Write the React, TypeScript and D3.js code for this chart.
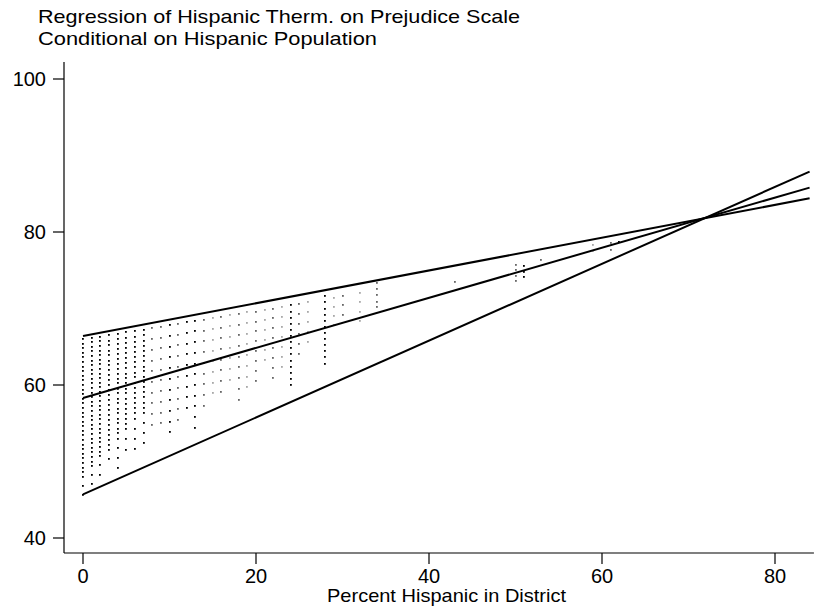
import React, { useEffect, useRef } from 'react';
import * as d3 from 'd3';

const width = 821;
const height = 608;

const titleLines = [
  'Regression of Hispanic Therm. on Prejudice Scale',
  'Conditional on Hispanic Population',
];
const titleWidths = [482, 339];
const xLabel = 'Percent Hispanic in District';
const xTicks = [0, 20, 40, 60, 80];
const yTicks = [40, 60, 80, 100];

// fitted lines: value at 0% and at 84% hispanic
const fitLines = [
  { x0: 0, y0: 66.4, x1: 84, y1: 84.4 },
  { x0: 0, y0: 58.3, x1: 84, y1: 85.8 },
  { x0: 0, y0: 45.7, x1: 84, y1: 87.9 },
];

// tone: 0 black, 1 gray, 2 light gray
const dotColumns = [
  { x: 0, tone: 0, ys: '66.0 65.4 64.8 64.2 63.6 63.0 62.4 61.8 61.2 60.6 60.0 59.4 58.8 58.2 57.6 57.0 56.4 55.8 55.2 54.6 54.0 53.4 52.8 52.2 51.6 51.0 50.4 49.8 49.2 48.6 48.0 46.8 45.6' },
  { x: 1, tone: 0, ys: '66.2 65.6 65.0 64.4 63.8 63.2 62.6 62.0 61.4 60.8 60.2 59.6 59.0 58.4 57.8 57.2 56.6 56.0 55.4 54.8 54.2 53.6 53.0 52.4 51.8 51.2 50.6 50.0 49.4 48.2 47.0' },
  { x: 2, tone: 0, ys: '66.3 65.7 65.1 64.5 63.9 63.3 62.7 62.1 61.5 60.9 60.3 59.7 59.1 58.5 57.9 57.3 56.7 56.1 55.5 54.9 54.3 53.7 53.1 52.5 51.9 51.3 50.7 49.5 48.3' },
  { x: 3, tone: 0, ys: '66.5 65.8 65.2 64.5 63.9 63.2 62.6 61.9 61.3 60.6 60.0 59.3 58.7 58.0 57.4 56.7 56.1 55.4 54.8 54.1 53.5 52.8 52.2 51.5 50.3' },
  { x: 4, tone: 0, ys: '66.7 66.0 65.4 64.7 64.1 63.4 62.8 62.1 61.5 60.8 60.2 59.5 58.9 58.2 57.6 56.9 56.3 55.6 55.0 54.3 53.7 53.0 51.7 50.4 49.1' },
  { x: 5, tone: 0, ys: '66.9 66.2 65.5 64.9 64.2 63.5 62.9 62.2 61.5 60.9 60.2 59.5 58.9 58.2 57.5 56.9 56.2 55.5 54.9 54.2 52.9 51.5' },
  { x: 6, tone: 0, ys: '67.0 66.3 65.6 65.0 64.3 63.6 63.0 62.3 61.6 61.0 60.3 59.6 59.0 58.3 57.6 57.0 56.3 55.6 54.3 53.0 51.6' },
  { x: 7, tone: 0, ys: '67.2 66.5 65.8 65.1 64.5 63.8 63.1 62.4 61.8 61.1 60.4 59.7 59.1 58.4 57.7 57.0 56.4 55.0 53.7 52.4' },
  { x: 8, tone: 1, ys: '67.4 66.0 64.6 63.2 61.8 60.4 59.0 57.6 56.2 54.8' },
  { x: 9, tone: 1, ys: '67.6 66.2 64.8 63.4 62.0 60.6 59.2 57.8 56.4 55.0' },
  { x: 10, tone: 0, ys: '67.8 66.4 65.0 63.6 62.2 60.8 59.4 58.0 56.6 55.2 53.8' },
  { x: 11, tone: 1, ys: '68.0 66.6 65.2 63.8 62.4 61.0 59.6 58.2 56.8 55.4' },
  { x: 12, tone: 0, ys: '68.2 66.8 65.4 64.0 62.6 61.2 59.8 58.4 57.0' },
  { x: 13, tone: 0, ys: '68.4 67.0 65.6 64.2 62.8 61.4 60.0 58.6 57.2 55.8 54.4' },
  { x: 14, tone: 1, ys: '68.5 67.1 65.7 64.3 62.9 61.5 60.1 58.7 57.3' },
  { x: 15, tone: 2, ys: '68.7 67.3 65.9 64.5 63.1 61.7 60.3 58.9' },
  { x: 16, tone: 1, ys: '68.9 67.5 66.1 64.7 63.3 61.9 60.5 59.1' },
  { x: 17, tone: 2, ys: '69.1 67.7 66.3 64.9 63.5 62.1 60.7' },
  { x: 18, tone: 1, ys: '69.3 67.9 66.5 65.1 63.7 62.3 60.9 59.5 58.1' },
  { x: 19, tone: 2, ys: '69.5 68.1 66.7 65.3 63.9 62.5 61.1 59.7' },
  { x: 20, tone: 1, ys: '69.6 68.3 67.0 65.7 64.4 63.1 61.8 60.5' },
  { x: 21, tone: 2, ys: '69.8 68.5 67.2 65.9 64.6 63.3' },
  { x: 22, tone: 1, ys: '70.0 68.7 67.4 66.1 64.8 63.5 62.2 60.9' },
  { x: 23, tone: 2, ys: '70.2 68.9 67.6 66.3 65.0 63.7 62.4' },
  { x: 24, tone: 0, ys: '70.4 69.6 68.8 68.0 67.2 66.4 65.6 64.8 64.0 63.2 62.4 61.6 60.8 60.0' },
  { x: 25, tone: 1, ys: '70.6 69.3 68.0 66.7 65.4 64.1' },
  { x: 26, tone: 2, ys: '70.8 69.5 68.2 66.9 65.6' },
  { x: 28, tone: 0, ys: '71.6 70.8 70.0 69.2 68.4 67.6 66.8 66.0 65.2 64.4 63.6 62.8' },
  { x: 29, tone: 2, ys: '71.4 70.2 69.0 67.8' },
  { x: 30, tone: 1, ys: '71.6 70.4 69.2' },
  { x: 32, tone: 2, ys: '72.0 70.8 69.6 68.4' },
  { x: 34, tone: 1, ys: '73.3 72.5 71.7 70.9 70.2' },
  { x: 43, tone: 1, ys: '73.5' },
  { x: 50, tone: 1, ys: '75.7 75.0 74.3 73.6' },
  { x: 51, tone: 0, ys: '75.5 74.8 74.1' },
  { x: 53, tone: 1, ys: '76.3' },
  { x: 59, tone: 2, ys: '78.3 77.5' },
  { x: 61, tone: 1, ys: '78.6 77.6' },
  { x: 62, tone: 0, ys: '78.7' },
];

const toneColors = ['#000', '#666', '#a8a8a8'];

const App: React.FC = () => {
  const ref = useRef<SVGSVGElement>(null);

  useEffect(() => {
    if (!ref.current) return;
    const svg = d3.select(ref.current);
    svg.selectAll('*').remove();

    const x = d3.scaleLinear().domain([0, 80]).range([83, 775]);
    const y = d3.scaleLinear().domain([40, 100]).range([538, 79]);
    const axisY = 553;
    const axisX = 64;
    const font = 'Liberation Sans, Arial, sans-serif';

    // title
    svg
      .selectAll('text.title')
      .data(titleLines)
      .enter()
      .append('text')
      .attr('class', 'title')
      .attr('x', 38)
      .attr('y', (d, i) => 23 + i * 22)
      .attr('font-family', font)
      .attr('font-size', 19)
      .attr('textLength', (d, i) => titleWidths[i])
      .attr('lengthAdjust', 'spacingAndGlyphs')
      .attr('fill', '#000')
      .text(d => d);

    // dots
    const dots = dotColumns.flatMap(c =>
      c.ys.split(' ').map(v => ({ x: c.x, y: +v, tone: c.tone }))
    );
    svg
      .append('g')
      .selectAll('rect')
      .data(dots)
      .enter()
      .append('rect')
      .attr('x', d => Math.round(x(d.x)) - 1)
      .attr('y', d => Math.round(y(d.y)) - 1)
      .attr('width', 1.8)
      .attr('height', 1.8)
      .attr('fill', d => toneColors[d.tone]);

    // fitted lines
    svg
      .append('g')
      .selectAll('line')
      .data(fitLines)
      .enter()
      .append('line')
      .attr('x1', d => x(d.x0))
      .attr('y1', d => y(d.y0))
      .attr('x2', d => x(d.x1))
      .attr('y2', d => y(d.y1))
      .attr('stroke', '#000')
      .attr('stroke-width', 2);

    // y axis
    svg
      .append('line')
      .attr('x1', axisX)
      .attr('x2', axisX)
      .attr('y1', 62)
      .attr('y2', axisY)
      .attr('stroke', '#000')
      .attr('stroke-width', 1.2);
    const yt = svg.append('g').selectAll('g').data(yTicks).enter().append('g');
    yt.append('line')
      .attr('x1', axisX - 11)
      .attr('x2', axisX)
      .attr('y1', d => y(d))
      .attr('y2', d => y(d))
      .attr('stroke', '#000')
      .attr('stroke-width', 1.2);
    yt.append('text')
      .attr('x', axisX - 18)
      .attr('y', d => y(d) + 7)
      .attr('text-anchor', 'end')
      .attr('font-family', font)
      .attr('font-size', 20)
      .text(d => d);

    // x axis
    svg
      .append('line')
      .attr('x1', axisX)
      .attr('x2', x(84.5))
      .attr('y1', axisY)
      .attr('y2', axisY)
      .attr('stroke', '#000')
      .attr('stroke-width', 1.2);
    const xt = svg.append('g').selectAll('g').data(xTicks).enter().append('g');
    xt.append('line')
      .attr('x1', d => x(d))
      .attr('x2', d => x(d))
      .attr('y1', axisY)
      .attr('y2', axisY + 11)
      .attr('stroke', '#000')
      .attr('stroke-width', 1.2);
    xt.append('text')
      .attr('x', d => x(d))
      .attr('y', axisY + 30)
      .attr('text-anchor', 'middle')
      .attr('font-family', font)
      .attr('font-size', 20)
      .text(d => d);

    svg
      .append('text')
      .attr('x', 327)
      .attr('y', 602)
      .attr('font-family', font)
      .attr('font-size', 19)
      .attr('textLength', 239)
      .attr('lengthAdjust', 'spacingAndGlyphs')
      .text(xLabel);
  }, []);

  return (
    <svg
      ref={ref}
      width={width}
      height={height}
      style={{ position: 'absolute', top: 0, left: 0, background: '#fff' }}
    />
  );
};

export default App;
